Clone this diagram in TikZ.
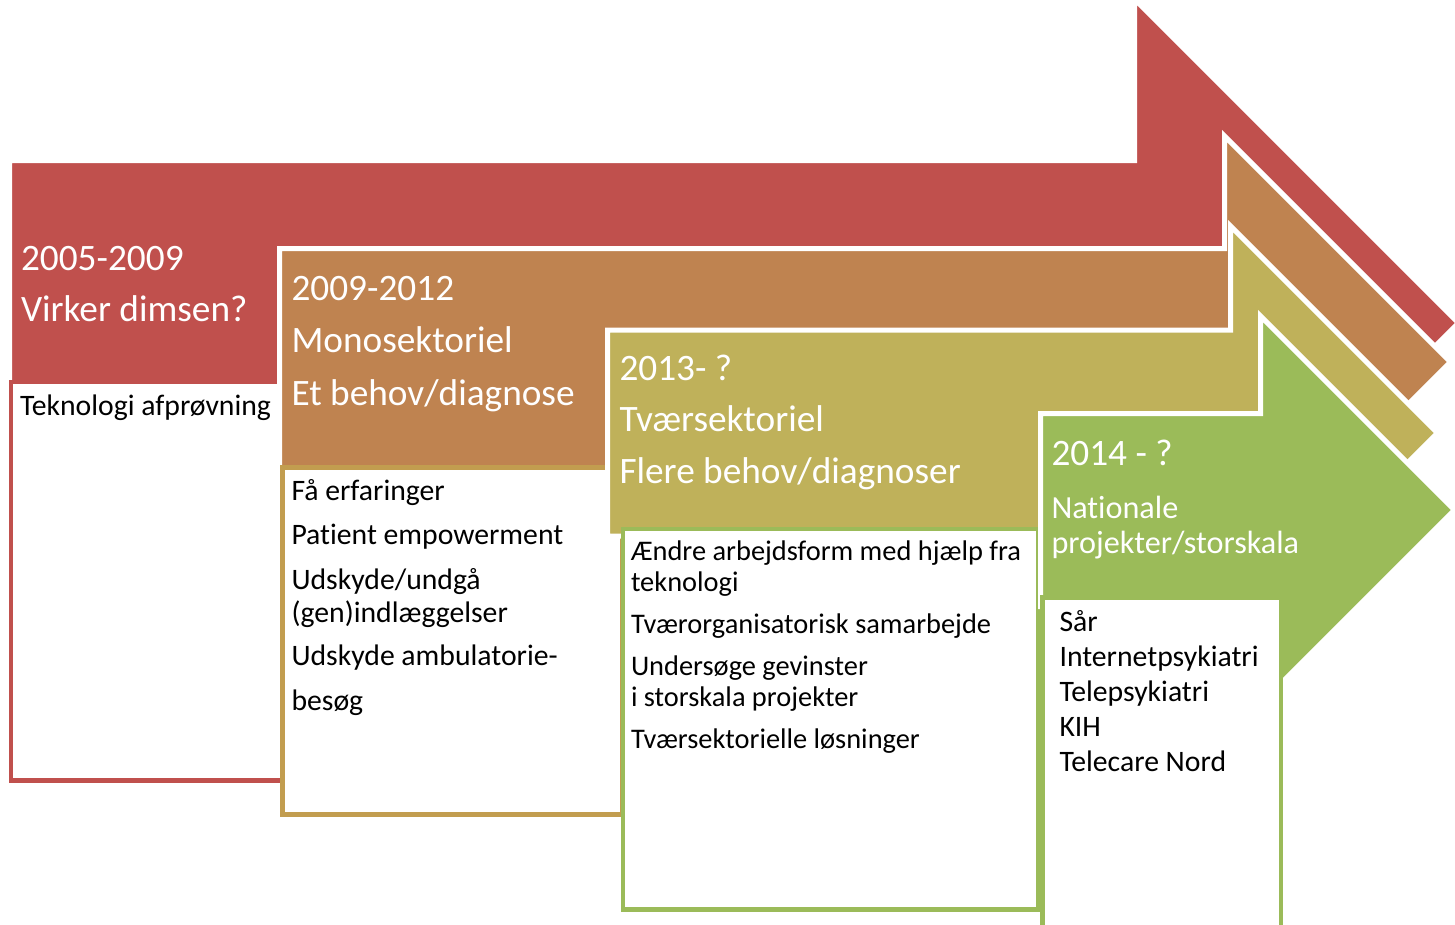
\documentclass[tikz,border=0pt]{standalone}
\usepackage{fontspec}
\setmainfont{Carlito}[Ligatures={NoCommon}]
\definecolor{cRed}{HTML}{C0504D}
\definecolor{cOrange}{HTML}{BF8350}
\definecolor{cOlive}{HTML}{BFB15A}
\definecolor{cGreen}{HTML}{9BBB59}
\definecolor{cTan}{HTML}{C29D4F}
\begin{document}
\begin{tikzpicture}[x=1pt,y=-1pt,
  arrowshape/.style={draw=white, line width=5pt, line join=miter},
  textbox/.style={fill=white, line width=4.5pt},
  ttl/.style={anchor=base west, inner sep=0pt, outer sep=0pt, text=white, font=\fontsize{37.3}{41}\selectfont},
  sub/.style={anchor=base west, inner sep=0pt, outer sep=0pt, text=white, font=\fontsize{32.2}{36}\selectfont},
  txt/.style={anchor=base west, inner sep=0pt, outer sep=0pt, text=black, font=\fontsize{29.7}{33}\selectfont},
  txtb/.style={anchor=base west, inner sep=0pt, outer sep=0pt, text=black, font=\fontsize{28.4}{32}\selectfont},
]
\useasboundingbox (0,0) rectangle (1455,924);
\fill[white] (0,0) rectangle (1455,924);

% arrow 1 (red)
\path[arrowshape, fill=cRed] (9.5,160.5) -- (1134.5,160.5) -- (1134.5,-1) -- (1458.5,323) -- (1134.5,647) -- (1134.5,485.5) -- (9.5,485.5) -- cycle;
\draw[textbox, draw=cRed] (11,382) rectangle (282,780.5);

% arrow 2 (orange)
\path[arrowshape, fill=cOrange] (279.5,248.5) -- (1224.5,248.5) -- (1224.5,136) -- (1450.5,362) -- (1224.5,588) -- (1224.5,475.5) -- (279.5,475.5) -- cycle;
\draw[textbox, draw=cTan] (282.5,467.5) rectangle (622,814.5);

% arrow 3 (olive)
\path[arrowshape, fill=cOlive] (607.5,330) -- (1230.5,330) -- (1230.5,226) -- (1437.5,433) -- (1230.5,640) -- (1230.5,536) -- (607.5,536) -- cycle;
\draw[textbox, draw=cGreen] (623,529) rectangle (1038,909.5);

% arrow 4 (green)
\path[arrowshape, fill=cGreen] (1040.5,413.5) -- (1260.5,413.5) -- (1260.5,316) -- (1454.5,510) -- (1260.5,704) -- (1260.5,606.5) -- (1040.5,606.5) -- cycle;
\draw[textbox, draw=cGreen] (1042.5,597.5) rectangle (1281,940);

% titles
\node[ttl] (t1a) at (21,270.7) {2005-2009};
\node[ttl] (t1b) at (21,321.7) {Virker dimsen?};
\node[ttl] (t2a) at (291.5,300.7) {2009-2012};
\node[ttl] (t2b) at (291.5,352.7) {Monosektoriel};
\node[ttl] (t2c) at (291.5,405) {Et behov/diagnose};
\node[ttl] (t3a) at (619.5,380.7) {2013- ?};
\node[ttl] (t3b) at (619.5,431.7) {Tværsektoriel};
\node[ttl] (t3c) at (619.5,483.3) {Flere behov/diagnoser};
\node[ttl] (t4a) at (1051.5,465) {2014 - ?};
\node[sub] (t4b) at (1051.5,518.3) {Nationale};
\node[sub] (t4c) at (1051.5,553.3) {projekter/storskala};

% box texts
\node[txt] (b1a) at (20,415) {Teknologi afprøvning};

\node[txt] (b2a) at (291.5,500.7) {Få erfaringer};
\node[txt] (b2b) at (291.5,544) {Patient empowerment};
\node[txt] (b2c) at (291.5,589) {Udskyde/undgå};
\node[txt] (b2d) at (291.5,622.7) {(gen)indlæggelser};
\node[txt] (b2e) at (291.5,665.7) {Udskyde ambulatorie-};
\node[txt] (b2f) at (291.5,710) {besøg};

\node[txtb] (b3a) at (631,560) {Ændre arbejdsform med hjælp fra};
\node[txtb] (b3b) at (631,591) {teknologi};
\node[txtb] (b3c) at (631,633.3) {Tværorganisatorisk samarbejde};
\node[txtb] (b3d) at (631,675.7) {Undersøge gevinster};
\node[txtb] (b3e) at (631,706.7) {i storskala projekter};
\node[txtb] (b3f) at (631,748.3) {Tværsektorielle løsninger};

\node[txt] (b4a) at (1059.5,631.7) {Sår};
\node[txt] (b4b) at (1059.5,666.7) {Internetpsykiatri};
\node[txt] (b4c) at (1059.5,701.7) {Telepsykiatri};
\node[txt] (b4d) at (1059.5,736.7) {KIH};
\node[txt] (b4e) at (1059.5,771.7) {Telecare Nord};
\end{tikzpicture}
\end{document}
